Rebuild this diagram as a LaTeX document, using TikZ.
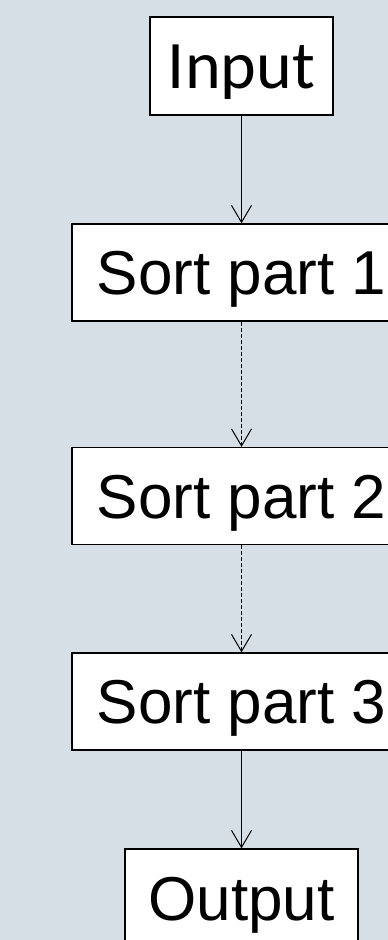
\documentclass[tikz,border=0pt]{standalone}
\usepackage{fontspec}
\setmainfont{Liberation Sans}
\newfontfamily\inputfont{Carlito}
\usetikzlibrary{arrows.meta}
\definecolor{bgc}{RGB}{214,223,230}
\begin{document}
\begin{tikzpicture}[x=1pt,y=-1pt,
  box/.style={draw=black, line width=1.3pt, fill=white, inner sep=0pt,
    font=\fontsize{62}{62}\selectfont, text height=44pt, text depth=0pt,
    minimum height=97pt},
  link/.style={line width=1pt, -{Straight Barb[length=17pt,width=20pt]}},
  dashlink/.style={link, dash pattern=on 4pt off 2pt}]
\useasboundingbox (0,0) rectangle (388,940);
\clip (0,0) rectangle (388,940);
\fill[bgc] (0,0) rectangle (388,940);
\node[box, minimum width=183pt, minimum height=98pt,
  font=\inputfont\fontsize{68}{68}\selectfont] (in) at (241.5,66) {Input};
\node[box, minimum width=339pt] (s1) at (241.5,272.5) {Sort part 1};
\node[box, minimum width=339pt] (s2) at (241.5,496) {Sort part 2};
\node[box, minimum width=339pt] (s3) at (241.5,701.5) {Sort part 3};
\node[box, minimum width=233pt, minimum height=98pt] (out) at (241.5,898) {Output};
\draw[link] (in) -- (s1);
\draw[dashlink] (s1) -- (s2);
\draw[dashlink] (s2) -- (s3);
\draw[link] (s3) -- (out);
\end{tikzpicture}
\end{document}
